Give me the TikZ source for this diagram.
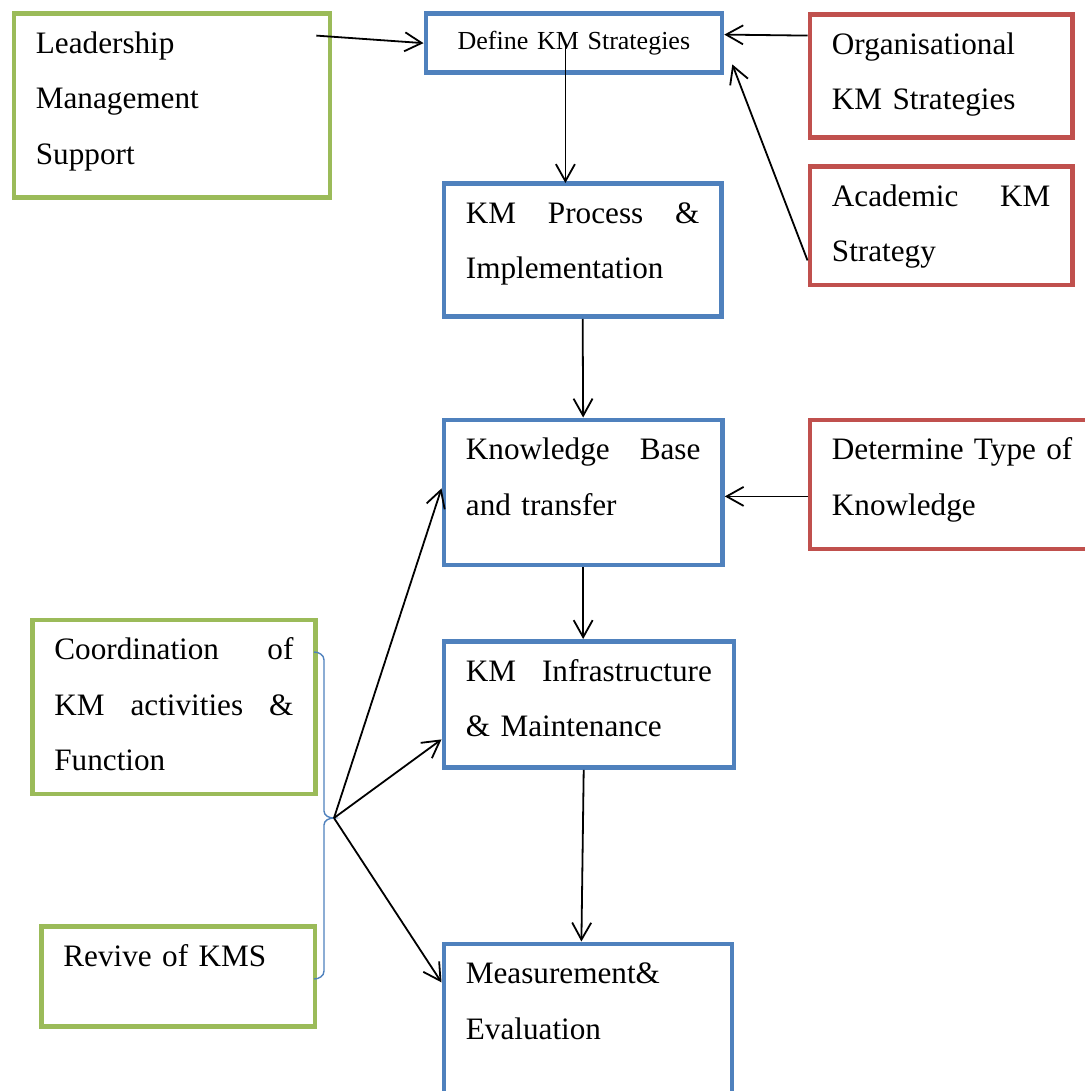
\documentclass[tikz,border=0pt]{standalone}
\usepackage{fontspec}
\setmainfont{Liberation Serif}
\usepackage{tikz}
\usetikzlibrary{arrows.meta, positioning}
\definecolor{kmblue}{RGB}{79, 129, 189}
\definecolor{kmred}{RGB}{192, 80, 77}
\definecolor{kmgreen}{RGB}{155, 187, 89}

\begin{document}
\begin{tikzpicture}[
    x=0.5pt, y=-0.5pt,
    kmbox/.style={rectangle, anchor=north west, line width=2.4pt, inner xsep=11pt, inner ysep=0pt, text height=20pt, align=left, font=\fontsize{15.6}{27.75}\selectfont},
    bluebox/.style={kmbox, draw=kmblue},
    redbox/.style={kmbox, draw=kmred},
    greenbox/.style={kmbox, draw=kmgreen},
    arrow/.style={line width=0.9pt, -{Straight Barb[length=8.5pt, width=9.5pt]}},
    brace/.style={draw=kmblue, line width=0.7pt}
]
    \clip[use as bounding box] (0,0) rectangle (1085,1091);

    % boxes
    \node[greenbox, text width=136pt, text depth=72pt] (leader) at (11.5,11) {Leadership\\Management\\Support};
    \node[bluebox, text width=126pt, text height=18pt, text depth=11.75pt, align=center, font=\fontsize{13}{16}\selectfont] (define) at (423.5,11) {Define KM Strategies};
    \node[redbox, text width=109.25pt, text depth=41.75pt] (orgstrat) at (807.5,12) {Organisational\\KM Strategies};
    \node[redbox, text width=109.25pt, text depth=39.25pt] (acadstrat) at (807.5,164) {Academic\hfill KM\\Strategy};
    \node[bluebox, text width=116.75pt, text depth=46.5pt] (process) at (441.5,181) {KM\hfill Process\hfill \&\\Implementation};
    \node[bluebox, text width=117.25pt, text depth=52.5pt] (kbase) at (441.5,417.5) {Knowledge\hfill Base\\and transfer};
    \node[redbox, text width=123.75pt, text depth=44.5pt] (ktype) at (807.5,417.5) {Determine Type of\\Knowledge};
    \node[bluebox, text width=123pt, text depth=43pt] (infra) at (441.5,639) {KM\hfill Infrastructure\\\& Maintenance};
    \node[greenbox, text width=119.5pt, text depth=67pt] (coord) at (30,617.5) {Coordination\hfill of\\KM\hfill activities\hfill \&\\Function};
    \node[greenbox, text width=114.75pt, text depth=30pt] (revive) at (39,924) {Revive of KMS};
    \node[bluebox, text width=122pt, text depth=70pt] (measure) at (441.5,941.5) {Measurement\&\\Evaluation};

    % brace
    \draw[brace] (314,652) to[out=0, in=90] (324,660) -- (324,811) to[out=-90, in=180] (334,818)
        to[out=180, in=90] (324,825) -- (324,971) to[out=-90, in=0] (314,979);
    \coordinate (bracetip) at (334,818);

    % arrows
    \draw[arrow] ([xshift=-8pt, yshift=-12.3pt]leader.north east) -- (define.west);
    \draw[arrow] ([xshift=-4.25pt, yshift=-1pt]define.center) -- ([xshift=-4.25pt, yshift=-1pt]define.center |- process.north);
    \draw[arrow] ([yshift=-11.8pt]orgstrat.north west) -- ([yshift=-11.8pt]define.north east);
    \draw[arrow] ([yshift=13.45pt]acadstrat.south west) -- ([xshift=4pt, yshift=5.45pt]define.south east);
    \draw[arrow] (process.south) -- (kbase.north);
    \draw[arrow] ([yshift=-6pt]ktype.west) -- ([yshift=-2pt]kbase.east);
    \draw[arrow] (kbase.south) -- (kbase.south |- infra.north);
    \draw[arrow] ([xshift=-2.6pt]infra.south) -- ([xshift=-3.25pt]measure.north);
    \draw[arrow] (bracetip) -- ([yshift=2pt]kbase.west);
    \draw[arrow] (bracetip) -- ([yshift=15.2pt]infra.south west);
    \draw[arrow] (bracetip) -- ([yshift=-20.45pt]measure.north west);

\end{tikzpicture}
\end{document}
